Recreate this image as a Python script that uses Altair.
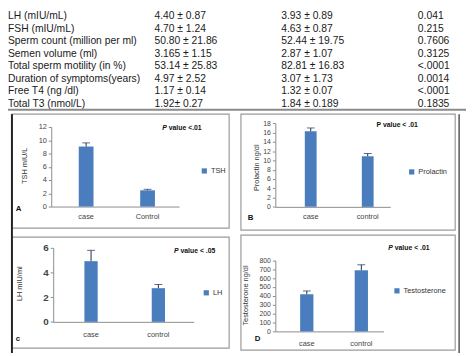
import altair as alt
import pandas as pd

# ---------------- table values ----------------
row_labels = ["LH (mIU/mL)", "FSH (mIU/mL)", "Sperm count (million per ml)",
              "Semen volume (ml)", "Total sperm motility (in %)",
              "Duration of symptoms(years)", "Free T4 (ng /dl)", "Total T3 (nmol/L)"]
case_col = ["4.40 ± 0.87", "4.70 ± 1.24", "50.80 ± 21.86", "3.165 ± 1.15",
            "53.14 ± 25.83", "4.97 ± 2.52", "1.17 ± 0.14", "1.92± 0.27"]
control_col = ["3.93 ± 0.89", "4.63 ± 0.87", "52.44 ± 19.75", "2.87 ± 1.07",
               "82.81 ± 16.83", "3.07 ± 1.73", "1.32 ± 0.07", "1.84 ± 0.189"]
p_col = ["0.041", "0.215", "0.7606", "0.3125", "<.0001", "0.0014", "<.0001", "0.1835"]

# ---------------- panel values ----------------
tsh_groups = ["case", "Control"]
tsh_mean = [9.05, 2.45]
tsh_err = [0.55, 0.15]

prl_groups = ["case", "control"]
prl_mean = [16.3, 10.9]
prl_err = [0.7, 0.6]

lh_groups = ["case", "control"]
lh_mean = [4.92, 2.73]
lh_err = [0.88, 0.3]

tst_groups = ["case", "control"]
tst_mean = [418, 688]
tst_err = [37, 62]

series_names = ["TSH", "Prolactin", "LH", "Testosterone"]
y_titles = ["TSH mIU/L", "Prolactin ng/dl", "LH mIU/ml", "Testosterone ng/dl"]
y_ticks = [[0, 2, 4, 6, 8, 10, 12],
           [0, 2, 4, 6, 8, 10, 12, 14, 16, 18],
           [0, 2, 4, 6],
           [0, 100, 200, 300, 400, 500, 600, 700, 800]]
p_rest = ["value <.01", "P value < .01", "value < .05", "value < .01"]
p_italic = [True, False, True, True]
panel_letters = ["A", "B", "c", "D"]

BLUE = "#4a7dbe"
ERR = "#1c2c4c"
FONT = "Liberation Sans"
W, H = 466, 348

# layout (chart px): x range r0,r1 ; bar centres ; bar width ; y range (zero, top)
layouts = [
    dict(xr=(44, 174), c=(79.5, 142), bw=15, yr=(199, 118), lab_pad=6,
         ttl=(-27, 157), leg=(199, 164), ptxt=(157, 119), letter=(8, 202), ylfs=7.5, ylfw="normal"),
    dict(xr=(272, 389), c=(308, 366), bw=12, yr=(199.3, 114.3), lab_pad=6,
         ttl=(-19, 159), leg=(410, 165), ptxt=(375, 116), letter=(244, 211), ylfs=7, ylfw="normal"),
    dict(xr=(46, 189), c=(84.5, 153), bw=13.5, yr=(316.3, 241), lab_pad=9,
         ttl=(-34, 277), leg=(201, 288), ptxt=(169, 244), letter=(8, 334), ylfs=10, ylfw="bold"),
    dict(xr=(272, 382), c=(304, 359.5), bw=13.5, yr=(326, 253.7), lab_pad=8,
         ttl=(-30, 289), leg=(395, 286), ptxt=(387, 241), letter=(251, 334), ylfs=7, ylfw="normal"),
]


def band_params(r0, r1, c1, c2, bw):
    step = c2 - c1
    pi = 1 - bw / step
    width = r1 - r0
    po = (width / step - (2 - pi)) / 2
    po = min(max(po, 0), 1)
    span = width - step * (2 - pi)
    al = (c1 - bw / 2 - r0) / span if span > 0 else 0.5
    al = min(max(al, 0), 1)
    return pi, po, al


def panel(groups, means, errs, idx):
    L = layouts[idx]
    df = pd.DataFrame({"g": groups, "m": means,
                       "top": [m + e for m, e in zip(means, errs)],
                       "s": [series_names[idx]] * len(groups)})
    r0, r1 = L["xr"]
    pi, po, al = band_params(r0, r1, L["c"][0], L["c"][1], L["bw"])
    xs = alt.Scale(domain=groups, range=[r0, r1], paddingInner=pi,
                   paddingOuter=po, align=al)
    yt = y_ticks[idx]
    ys = alt.Scale(domain=[yt[0], yt[-1]], range=list(L["yr"]), nice=False, zero=True)
    xaxis = alt.Axis(title=None, orient="bottom", offset=-(H - L["yr"][0]),
                     ticks=False, labelAngle=0, labelPadding=L["lab_pad"],
                     labelFont=FONT, labelFontSize=7.5, labelColor="#444",
                     domainColor="#8c8c8c", grid=False)
    yaxis = alt.Axis(title=y_titles[idx], orient="left", offset=-r0, values=yt,
                     grid=False, tickSize=3, tickColor="#8c8c8c", domainColor="#8c8c8c",
                     labelFont=FONT, labelFontSize=L["ylfs"], labelFontWeight=L["ylfw"],
                     labelColor="#444", labelPadding=2,
                     titleFont=FONT, titleFontSize=7.5, titleFontWeight="normal",
                     titleColor="#333", titleX=L["ttl"][0], titleY=L["ttl"][1],
                     titleBaseline="middle", titleAlign="center")
    X = alt.X("g:N", scale=xs, sort=groups, axis=xaxis)
    bars = alt.Chart(df).mark_bar(color=BLUE).encode(
        x=X,
        y=alt.Y("m:Q", scale=ys, axis=yaxis),
        color=alt.Color("s:N", scale=alt.Scale(range=[BLUE]),
                        legend=alt.Legend(orient="none", legendX=L["leg"][0] - 3,
                                          legendY=L["leg"][1] - 5, title=None,
                                          symbolType="square", symbolSize=28,
                                          symbolStrokeWidth=0, labelFont=FONT,
                                          labelFontSize=7.5, labelColor="#333",
                                          labelOffset=3, padding=0)),
    )
    rule = alt.Chart(df).mark_rule(color=ERR, strokeWidth=1).encode(
        x=X, y=alt.Y("m:Q", scale=ys, axis=yaxis), y2="top:Q")
    tick = alt.Chart(df).mark_tick(color=ERR, thickness=1, size=8).encode(
        x=X, y=alt.Y("top:Q", scale=ys, axis=yaxis))
    blank = alt.Data(values=[{}])
    px, py = L["ptxt"]
    layers = [bars, rule, tick]
    if p_italic[idx]:
        layers.append(alt.Chart(blank).mark_text(text="P", font=FONT, fontSize=7,
                                                 fontWeight="bold", fontStyle="italic",
                                                 align="left", baseline="middle",
                                                 color="#111").encode(
            x=alt.value(px), y=alt.value(py)))
        px = px + 6.5
    layers.append(alt.Chart(blank).mark_text(text=p_rest[idx], font=FONT, fontSize=7,
                                             fontWeight="bold", align="left",
                                             baseline="middle", color="#111").encode(
        x=alt.value(px), y=alt.value(py)))
    layers.append(alt.Chart(blank).mark_text(text=panel_letters[idx], font=FONT, fontSize=8,
                                             fontWeight="bold", align="left",
                                             baseline="middle", color="#111").encode(
        x=alt.value(L["letter"][0]), y=alt.value(L["letter"][1])))
    return alt.layer(*layers)


panels = [panel(tsh_groups, tsh_mean, tsh_err, 0),
          panel(prl_groups, prl_mean, prl_err, 1),
          panel(lh_groups, lh_mean, lh_err, 2),
          panel(tst_groups, tst_mean, tst_err, 3)]

# ---------------- table text ----------------
tdf = pd.DataFrame({"row": list(range(len(row_labels))), "a": row_labels,
                    "b": case_col, "c": control_col, "d": p_col})
row_scale = alt.Scale(domain=[0, 7], range=[5.5, 94.5], nice=False, zero=False)
col_x = {"a": 0, "b": 149, "c": 278, "d": 417}
table_layers = []
for col, xv in col_x.items():
    table_layers.append(
        alt.Chart(tdf).mark_text(font=FONT, fontSize=10.5, align="left",
                                 baseline="middle", color="#1a1a1a").encode(
            x=alt.value(xv),
            y=alt.Y("row:Q", scale=row_scale, axis=None),
            text=f"{col}:N"))
table = alt.layer(*table_layers)

blank = alt.Data(values=[{}])
sep = alt.Chart(blank).mark_rule(color="#8a8a8a", strokeWidth=2).encode(
    x=alt.value(0), x2=alt.value(W), y=alt.value(100.5))

frames_pos = [(4, 225, 105, 221), (237, 455, 105, 223), (4, 225, 230, 343), (237, 455, 228, 345)]
frames = []
for (fx, fx2, fy, fy2) in frames_pos:
    frames.append(alt.Chart(blank).mark_rect(fillOpacity=0, stroke="#9a9a9a",
                                             strokeWidth=1.2).encode(
        x=alt.value(fx), x2=alt.value(fx2), y=alt.value(fy), y2=alt.value(fy2)))
outer_l = alt.Chart(blank).mark_rule(color="#222", strokeWidth=2).encode(
    x=alt.value(4), y=alt.value(105), y2=alt.value(H))
outer_r = alt.Chart(blank).mark_rule(color="#555", strokeWidth=1.5).encode(
    x=alt.value(459), y=alt.value(105), y2=alt.value(H))

chart = alt.layer(table, sep, *frames, outer_l, outer_r, *panels).properties(
    width=W, height=H, padding=0,
    autosize=alt.AutoSizeParams(type="none"),
).resolve_scale(x="independent", y="independent", color="independent").configure_view(stroke=None)

chart.save("out.html", embed_options={"renderer": "svg", "actions": False})
